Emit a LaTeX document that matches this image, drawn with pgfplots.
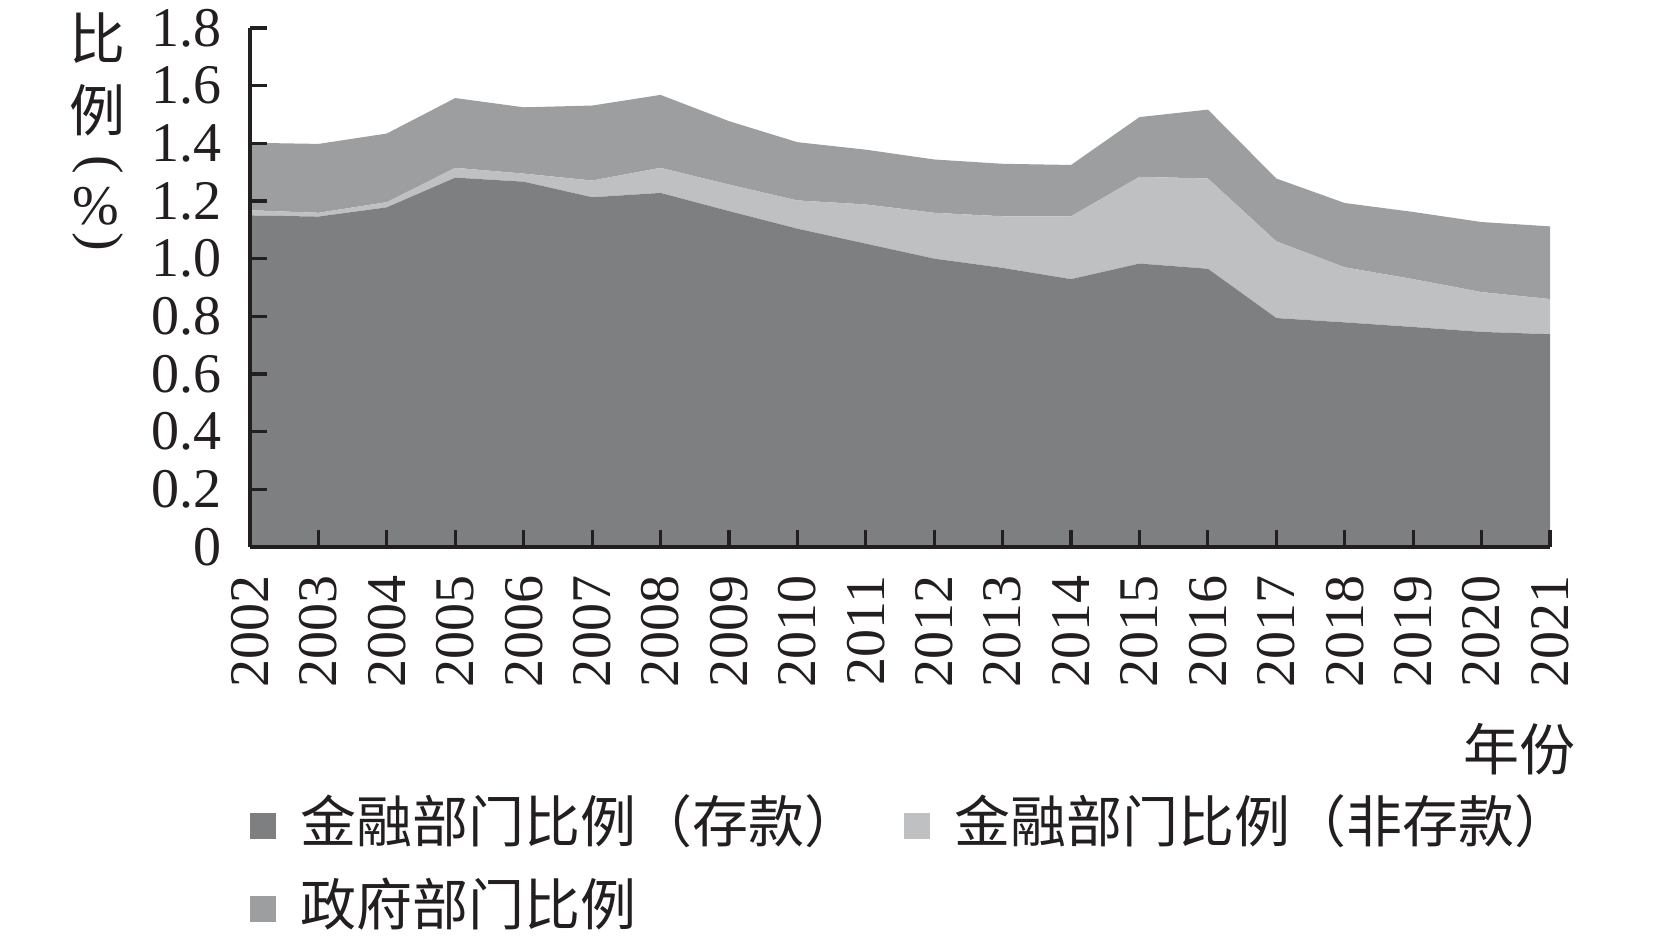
\documentclass[border=0pt]{standalone}
\usepackage{pgfplots}
\usepackage{pgfplotstable}
\pgfplotsset{compat=1.18}
\usepackage{fontspec}
\setmainfont{Liberation Serif}
\newfontfamily\cjk{Noto Sans CJK SC}
\definecolor{dep}{HTML}{7E7F81}
\definecolor{nondep}{HTML}{BFC0C2}
\definecolor{gov}{HTML}{9D9EA0}
\definecolor{ink}{HTML}{231F20}

\pgfplotstableread{
year dep nondep gov
2002 1.150 0.018 0.234
2003 1.146 0.013 0.239
2004 1.178 0.018 0.238
2005 1.281 0.034 0.242
2006 1.267 0.028 0.230
2007 1.213 0.058 0.260
2008 1.228 0.087 0.253
2009 1.165 0.092 0.220
2010 1.104 0.098 0.202
2011 1.052 0.136 0.190
2012 1.000 0.159 0.185
2013 0.968 0.179 0.182
2014 0.929 0.218 0.178
2015 0.983 0.301 0.207
2016 0.965 0.313 0.239
2017 0.794 0.266 0.218
2018 0.779 0.191 0.223
2019 0.763 0.166 0.233
2020 0.746 0.138 0.243
2021 0.738 0.122 0.252
}\data

\begin{document}
\begin{tikzpicture}
\begin{axis}[
  at={(0,0)}, anchor=south west,
  scale only axis, width=650pt, height=259.5pt,
  xmin=2002, xmax=2021, ymin=0, ymax=1.8,
  stack plots=y,
  axis lines=left,
  axis line style={-, line width=1.8pt, color=ink},
  axis on top,
  xtick={2002,2003,...,2021},
  ytick={0,0.2,0.4,0.6,0.8,1,1.2,1.4,1.6,1.8},
  yticklabels={0,0.2,0.4,0.6,0.8,1.0,1.2,1.4,1.6,1.8},
  tick align=inside,
  major tick length=8.5pt,
  tick style={line width=1.6pt, color=ink},
  /pgf/number format/assume math mode=true,
  /pgf/number format/1000 sep={},
  tick label style={font=\fontsize{28}{30}\selectfont, text=ink, inner sep=0pt},
  x tick label style={rotate=90, anchor=east},
  xticklabel shift=14pt,
  yticklabel shift=14pt,
  legend columns=2,
  legend cell align=left,
  legend style={draw=none, fill=none, inner sep=0pt,
    at={(axis description cs:0,-0.482)}, anchor=north west,
    font=\cjk\fontsize{28}{32}\selectfont, text=ink,
    nodes={inner sep=0pt, text height=22.5pt, text depth=5.5pt},
    row sep=13.5pt,
    /tikz/every odd column/.append style={column sep=12pt},
    /tikz/every even column/.append style={column sep=22pt}},
  legend image code/.code={\fill[#1] (0pt,-6.5pt) rectangle (13pt,6.5pt);},
]
\addplot[fill=dep, draw=none] table[x=year,y=dep]{\data} \closedcycle;
\addlegendentry{金融部门比例（存款）}
\addplot[fill=nondep, draw=none] table[x=year,y=nondep]{\data} \closedcycle;
\addlegendentry{金融部门比例（非存款）}
\addplot[fill=gov, draw=none] table[x=year,y=gov]{\data} \closedcycle;
\addlegendentry{政府部门比例}
\end{axis}
\begin{scope}[every node/.style={text=ink, inner sep=0pt}]
\node[font=\cjk\fontsize{28}{30}\selectfont] at (-76.25pt,254.5pt) {比};
\node[font=\cjk\fontsize{28}{30}\selectfont] at (-76.25pt,218.5pt) {例};
\node[font=\fontsize{28}{30}\selectfont, rotate=-90] at (-76.25pt,191pt) {(};
\node[font=\fontsize{28}{30}\selectfont] at (-77pt,170.5pt) {\%};
\node[font=\fontsize{28}{30}\selectfont, rotate=-90] at (-76.25pt,152.5pt) {)};
\node[font=\cjk\fontsize{28}{30}\selectfont] at (634.5pt,-101pt) {年份};
\end{scope}
\pgfresetboundingbox
\path (-125pt,-195pt) rectangle (702pt,273.5pt);
\end{tikzpicture}
\end{document}
